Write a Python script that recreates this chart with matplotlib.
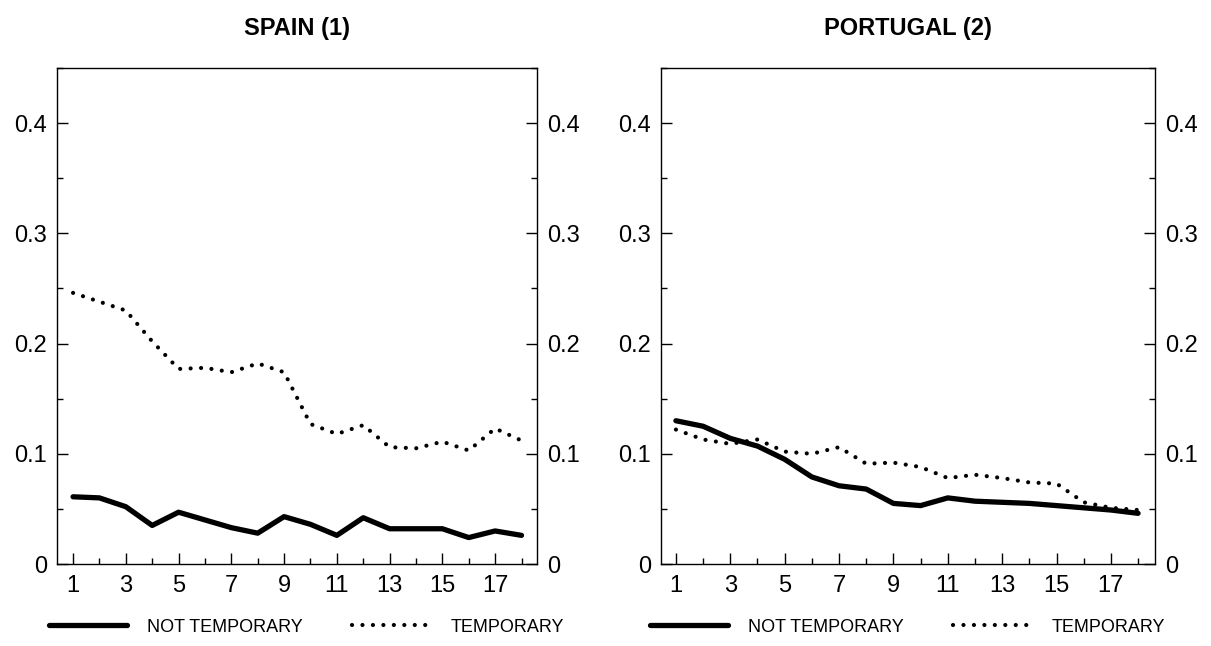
import numpy as np
import matplotlib
matplotlib.use("Agg")
import matplotlib.pyplot as plt
from matplotlib.ticker import MultipleLocator

plt.rcParams["font.family"] = ["Liberation Sans", "DejaVu Sans"]

periods = list(range(1, 19))

spain_not_temp = [0.061, 0.060, 0.052, 0.035, 0.047, 0.040, 0.033, 0.028, 0.043,
                  0.036, 0.026, 0.042, 0.032, 0.032, 0.032, 0.024, 0.030, 0.026]
spain_temp = [0.246, 0.238, 0.230, 0.202, 0.177, 0.178, 0.174, 0.182, 0.174,
              0.127, 0.118, 0.126, 0.106, 0.105, 0.111, 0.103, 0.123, 0.112]

portugal_not_temp = [0.130, 0.125, 0.114, 0.107, 0.095, 0.079, 0.071, 0.068, 0.055,
                     0.053, 0.060, 0.057, 0.056, 0.055, 0.053, 0.051, 0.049, 0.046]
portugal_temp = [0.122, 0.113, 0.109, 0.113, 0.102, 0.100, 0.106, 0.091, 0.092,
                 0.088, 0.078, 0.081, 0.078, 0.074, 0.073, 0.056, 0.051, 0.049]

panels = [
    ("SPAIN (1)", spain_not_temp, spain_temp, [0.0471, 0.1269, 0.3964, 0.7678], (0.393, 18.59), 49),
    ("PORTUGAL (2)", portugal_not_temp, portugal_temp, [0.5458, 0.1269, 0.4079, 0.7678], (0.45, 18.62), 650),
]

fig = plt.figure(figsize=(12.11, 6.46), dpi=100)

for title, not_temp, temp, rect, xlim, leg_x in panels:
    ax = fig.add_axes(rect)
    ax.plot(periods, not_temp, color="black", linewidth=3.8, solid_capstyle="round",
            solid_joinstyle="round", label="NOT TEMPORARY")
    ax.plot(periods, temp, color="black", linewidth=3.0, linestyle=(0, (0.01, 2.5)),
            dash_capstyle="round", label="TEMPORARY")

    ax.set_xlim(*xlim)
    ax.set_ylim(0, 0.45)
    ax.set_title(title, fontsize=17, fontweight="bold", pad=24)

    ax.xaxis.set_major_locator(MultipleLocator(2, offset=1))
    ax.xaxis.set_minor_locator(MultipleLocator(1))
    ax.set_yticks([0, 0.1, 0.2, 0.3, 0.4])
    ax.set_yticklabels(["0", "0.1", "0.2", "0.3", "0.4"])
    ax.yaxis.set_minor_locator(MultipleLocator(0.05))

    ax.tick_params(axis="both", which="both", direction="in", width=1.0, labelsize=17)
    ax.tick_params(axis="x", which="major", length=8, pad=8)
    ax.tick_params(axis="x", which="minor", length=4)
    ax.tick_params(axis="y", which="major", length=8, pad=7, right=True, labelright=True)
    ax.tick_params(axis="y", which="minor", length=4.5, right=True)
    ax.tick_params(axis="x", which="both", top=False)
    for s in ax.spines.values():
        s.set_linewidth(1.0)

    ax.legend(loc="center left", bbox_to_anchor=(leg_x / 1211, 0.029),
              bbox_transform=fig.transFigure, ncol=2, frameon=False,
              fontsize=13, handlelength=4.3, handletextpad=1.15,
              columnspacing=2.7, borderpad=0, borderaxespad=0)

fig.savefig("out.png", dpi=100)
